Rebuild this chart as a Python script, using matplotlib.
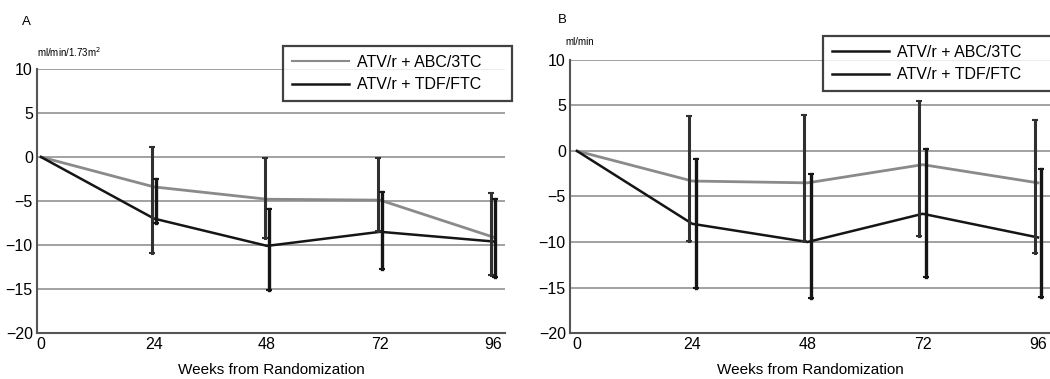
import matplotlib
matplotlib.use("Agg")
import matplotlib.pyplot as plt
from matplotlib.lines import Line2D

plt.rcParams['font.family'] = ['Liberation Sans', 'DejaVu Sans']

weeks = [0, 24, 48, 72, 96]
series_names = ["ATV/r + ABC/3TC", "ATV/r + TDF/FTC"]

# Panel A (ml/min/1.73m2)
a_abc = [0, -3.4, -4.8, -4.9, -9.1]
a_abc_hi = [None, 1.1, -0.1, -0.1, -4.1]
a_abc_lo = [None, -10.9, -9.2, -8.4, -13.4]
a_tdf = [0, -7.0, -10.1, -8.5, -9.6]
a_tdf_hi = [None, -2.5, -5.9, -4.0, -4.8]
a_tdf_lo = [None, -7.5, -15.1, -12.7, -13.6]

# Panel B (ml/min)
b_abc = [0, -3.3, -3.5, -1.5, -3.5]
b_abc_hi = [None, 3.9, 4.0, 5.5, 3.4]
b_abc_lo = [None, -9.9, -9.9, -9.3, -11.2]
b_tdf = [0, -8.0, -10.0, -6.9, -9.5]
b_tdf_hi = [None, -0.9, -2.5, 0.2, -2.0]
b_tdf_lo = [None, -15.0, -16.2, -13.8, -16.0]

yticks = [10, 5, 0, -5, -10, -15, -20]

GRAY = '#8a8a8a'
BLACK = '#151515'

fig = plt.figure(figsize=(10.5, 3.79), dpi=100)
axA = fig.add_axes([37/1050, 1-333/379, (505-37)/1050, (333-69)/379])
axB = fig.add_axes([570/1050, 1-333/379, (1050-570)/1050, (333-60)/379])


def draw(ax, abc, abc_hi, abc_lo, tdf, tdf_hi, tdf_lo, xlim, off):
    for y in yticks[:-1]:
        ax.axhline(y, color='#9a9a9a', lw=1.3, zorder=1)
    ax.plot(weeks, abc, color=GRAY, lw=2.0, zorder=3)
    ax.plot(weeks, tdf, color=BLACK, lw=1.8, zorder=3)
    for i, w in enumerate(weeks):
        if abc_hi[i] is not None:
            ax.plot([w - off, w - off], [abc_lo[i], abc_hi[i]], color='#303030', lw=2.2, zorder=4,
                    marker='_', ms=4, mew=1.5)
        if tdf_hi[i] is not None:
            ax.plot([w + off, w + off], [tdf_lo[i], tdf_hi[i]], color=BLACK, lw=2.4, zorder=4,
                    marker='_', ms=4, mew=1.5)
    ax.set_xlim(*xlim)
    ax.set_ylim(-20, 10)
    ax.set_yticks(yticks)
    ax.set_xticks(weeks)
    ax.tick_params(length=0, labelsize=11.5, pad=3)
    for s in ['top', 'right']:
        ax.spines[s].set_visible(False)
    for s in ['left', 'bottom']:
        ax.spines[s].set_color('#555555')
        ax.spines[s].set_linewidth(1.5)
    ax.set_xlabel('Weeks from Randomization', fontsize=11, labelpad=8)
    ax.set_facecolor('none')


draw(axA, a_abc, a_abc_hi, a_abc_lo, a_tdf, a_tdf_hi, a_tdf_lo, (-0.85, 98.5), 0.4)
draw(axB, b_abc, b_abc_hi, b_abc_lo, b_tdf, b_tdf_hi, b_tdf_lo, (-1.45, 98.5), 0.7)

fig.text(22/1050, 1-22/379, 'A', fontsize=9.5, va='center', ha='left')
fig.text(37/1050, 1-52/379, 'ml/min/1.73m$^2$', fontsize=7, va='center', ha='left')
fig.text(558/1050, 1-20/379, 'B', fontsize=9.5, va='center', ha='left')
fig.text(565/1050, 1-42/379, 'ml/min', fontsize=7, va='center', ha='left')

handlesA = [Line2D([0], [0], color=GRAY, lw=1.5), Line2D([0], [0], color=BLACK, lw=1.8)]
handlesB = [Line2D([0], [0], color=BLACK, lw=1.8), Line2D([0], [0], color=BLACK, lw=1.8)]


def add_legend(handles, bbox):
    leg = fig.legend(handles, series_names, loc='center', bbox_to_anchor=bbox,
                     bbox_transform=fig.transFigure, fontsize=11.5, frameon=True,
                     fancybox=False, edgecolor='#111111', handlelength=3.6,
                     handletextpad=0.5, borderpad=0.55, labelspacing=0.45, mode='expand',
                     borderaxespad=0)
    leg.get_frame().set_linewidth(1.6)
    leg.set_zorder(10)
    return leg


add_legend(handlesA, (283/1050, 1-105/379, 229/1050, 63/379))
add_legend(handlesB, (823/1050, 1-96/379, 240/1050, 65/379))

fig.savefig('out.png', dpi=100)
